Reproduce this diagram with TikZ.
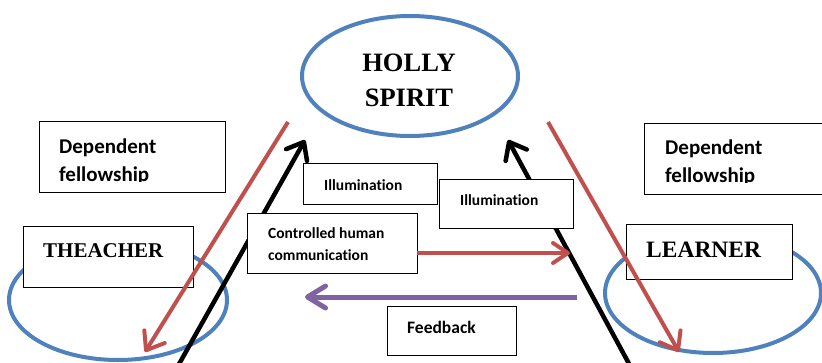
\documentclass[tikz,border=0pt]{standalone}
\usepackage{fontspec}
\usetikzlibrary{arrows.meta,shapes.geometric}
\newfontfamily\serifb{Liberation Serif}
\newfontfamily\sansb[Ligatures=NoCommon]{Carlito}
\definecolor{blueline}{HTML}{4F81BD}
\definecolor{redline}{HTML}{C0504D}
\definecolor{purpleline}{HTML}{8064A2}
\tikzset{
  ell/.style={ellipse, draw=blueline, line width=4pt, inner sep=0pt},
  box/.style={rectangle, draw=black, line width=0.9pt, fill=white, inner sep=0pt},
  sertxt/.style={inner sep=0pt, anchor=base west, font=\serifb\bfseries\fontsize{#1}{#1}\selectfont},
  santxt/.style={inner sep=0pt, anchor=base west, font=\sansb\bfseries\fontsize{#1}{#1}\selectfont},
  redarrow/.style={draw=redline, line width=4pt, -{Straight Barb[round,length=16pt,width=24pt]}},
  blackarrow/.style={draw=black, line width=4.5pt, -{Straight Barb[round,length=15pt,width=24pt]}},
  purplearrow/.style={draw=purpleline, line width=5pt, -{Straight Barb[round,length=18pt,width=22pt]}},
}
\begin{document}
\begin{tikzpicture}[x=1pt,y=-1pt]
\useasboundingbox (0,0) rectangle (822,362);
\clip (0,0) rectangle (822,362);
% ellipses
\node[ell, minimum width=216pt, minimum height=120pt] (spirit) at (410,76) {};
\node[ell, minimum width=218pt, minimum height=120pt] (teachell) at (118,300) {};
\node[ell, minimum width=216pt, minimum height=120pt] (learnell) at (713,293) {};
% black arrows (under boxes)
\coordinate (bls) at (174,373);
\coordinate (blt) at (305,140);
\coordinate (brs) at (634,373);
\coordinate (brt) at (508,140);
\draw[blackarrow] (bls) -- (blt);
\draw[blackarrow] (brs) -- (brt);
% boxes
\node[box, minimum width=186pt, minimum height=71pt] (dep1) at (132,156.5) {};
\node[box, minimum width=186pt, minimum height=71pt] (dep2) at (737,158.5) {};
\node[box, minimum width=170pt, minimum height=61pt] (teach) at (108,256.5) {};
\node[box, minimum width=166pt, minimum height=55pt] (learn) at (709,251.5) {};
\node[box, minimum width=134pt, minimum height=41pt] (ill1) at (370,183.5) {};
\node[box, minimum width=134pt, minimum height=49pt] (ill2) at (506,203.5) {};
\node[box, minimum width=170pt, minimum height=60pt] (ctrl) at (332,243) {};
\node[box, minimum width=129pt, minimum height=49pt] (feed) at (451.5,330.5) {};
% texts
\node[inner sep=0pt, anchor=base, font=\serifb\bfseries\fontsize{26.5}{26.5}\selectfont] (t1) at (409,71) {HOLLY};
\node[inner sep=0pt, anchor=base, font=\serifb\bfseries\fontsize{26.5}{26.5}\selectfont] (t2) at (409,106) {SPIRIT};
\node[sertxt=21] (t3) at (43,257) {THEACHER};
\node[sertxt=23.5] (t4) at (646,257) {LEARNER};
\node[santxt=21] (t5) at (59,153) {Dependent};
\node[santxt=21] (t6) at (665,154) {Dependent};
\begin{scope}
\clip (39,121) rectangle (225,181.5);
\node[santxt=21] (t7) at (59,181) {fellowship};
\end{scope}
\begin{scope}
\clip (644,123) rectangle (822,182.5);
\node[santxt=21] (t8) at (665,182) {fellowship};
\end{scope}
\node[santxt=15.5] (t9) at (324,190) {Illumination};
\node[santxt=15.5] (t10) at (460,205) {Illumination};
\node[santxt=15.5] (t11) at (268,238) {Controlled human};
\node[santxt=15.5] (t12) at (268,260) {communication};
\node[santxt=17.5] (t13) at (407,333) {Feedback};
% red and purple arrows (over boxes)
\coordinate (rls) at (288,122);
\coordinate (rlt) at (145,352);
\coordinate (rrs) at (548,122);
\coordinate (rrt) at (679,352);
\coordinate (rht) at (570,253);
\coordinate (pps) at (577,297);
\coordinate (ppt) at (305,297);
\draw[redarrow] (rls) -- (rlt);
\draw[redarrow] (rrs) -- (rrt);
\draw[redarrow, -{Straight Barb[round,length=15pt,width=20pt]}] (ctrl.east |- rht) -- (rht);
\draw[purplearrow, line cap=butt] (pps) -- (ppt);
\end{tikzpicture}
\end{document}
